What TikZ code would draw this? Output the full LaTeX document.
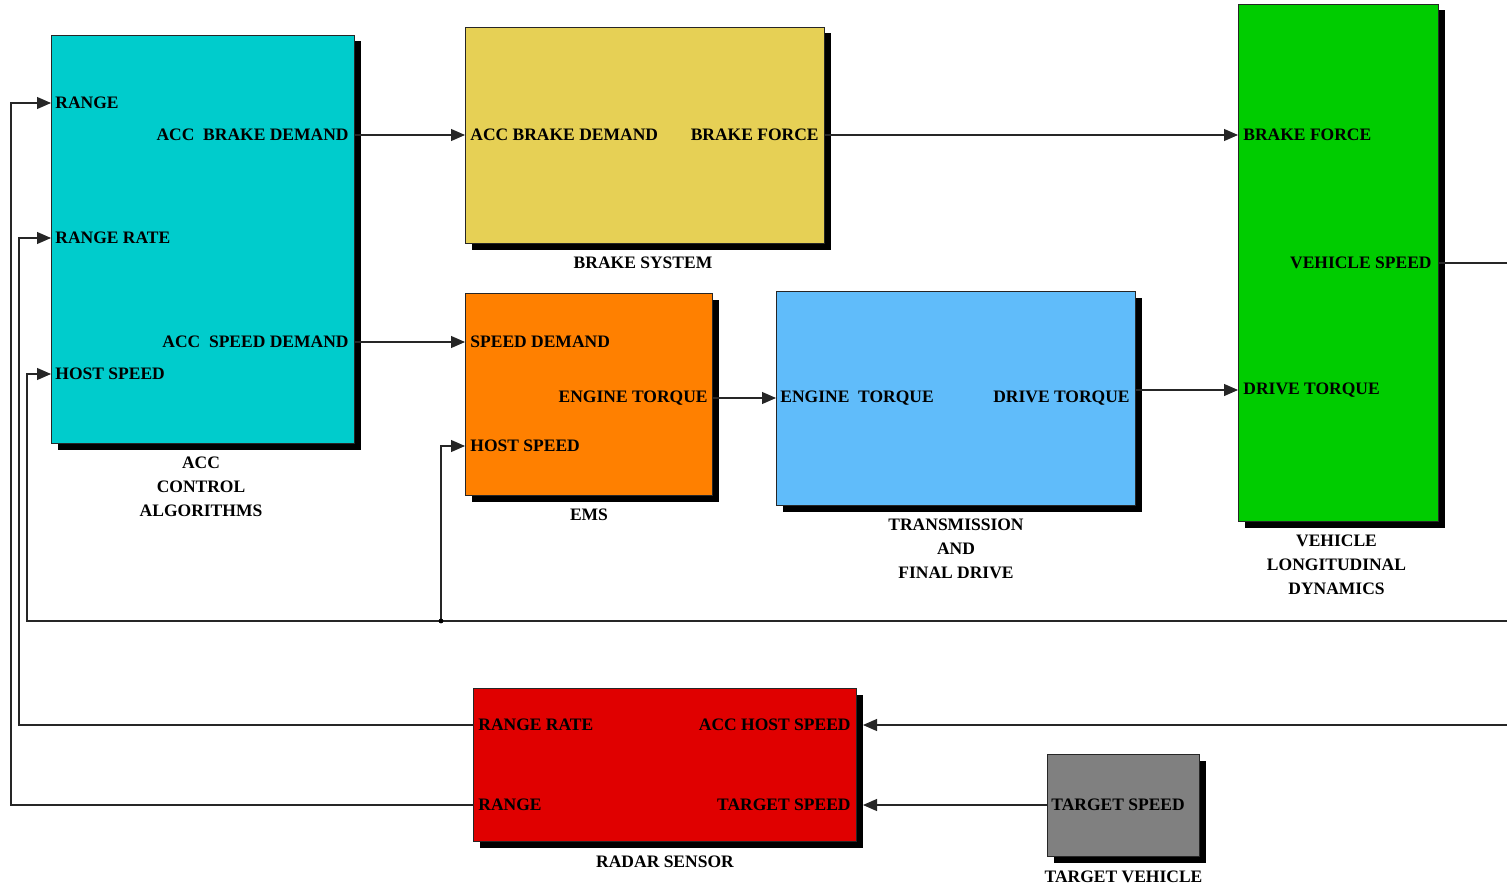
\documentclass[tikz,border=0pt]{standalone}
\usepackage{fontspec}
\setmainfont{Liberation Serif}
\usetikzlibrary{arrows.meta,positioning,shadows,calc}
\definecolor{acccyan}{RGB}{0,204,204}
\definecolor{brakeyellow}{RGB}{230,208,85}
\definecolor{emsorange}{RGB}{255,128,0}
\definecolor{transblue}{RGB}{96,188,250}
\definecolor{vehgreen}{RGB}{0,204,0}
\definecolor{radarred}{RGB}{224,0,0}
\definecolor{targetgray}{RGB}{128,128,128}
\tikzset{
  block/.style={draw=black!85, line width=0.5pt, anchor=north west, inner sep=0pt,
    drop shadow={shadow xshift=3pt, shadow yshift=-3pt, fill=black, opacity=1}},
  port/.style={inner sep=0pt, font=\fontsize{8.75}{11}\selectfont\bfseries},
  inport/.style={port, anchor=west},
  outport/.style={port, anchor=east},
  caption/.style={inner sep=0pt, align=center, font=\fontsize{8.75}{12}\selectfont\bfseries},
  wire/.style={draw=black!85, line width=0.55pt},
  sig/.style={wire, -{Triangle[length=7pt,width=6pt]}},
}
\begin{document}
\begin{tikzpicture}[x=0.5pt, y=-0.5pt]
\useasboundingbox (0,0) rectangle (1507,888);

% blocks
\node[block, fill=acccyan, minimum width=151.5pt, minimum height=204pt] (acc) at (51,35) {};
\node[block, fill=brakeyellow, minimum width=179.5pt, minimum height=108pt] (brake) at (465,27) {};
\node[block, fill=emsorange, minimum width=123.5pt, minimum height=101pt] (ems) at (465,293) {};
\node[block, fill=transblue, minimum width=179.5pt, minimum height=107pt] (trans) at (776,291) {};
\node[block, fill=vehgreen, minimum width=100pt, minimum height=258.5pt] (veh) at (1238,4) {};
\node[block, fill=radarred, minimum width=191.5pt, minimum height=76.5pt] (radar) at (473,688) {};
\node[block, fill=targetgray, minimum width=76pt, minimum height=51pt] (target) at (1047,754) {};

% captions
\node[caption, below=6.5pt of acc, xshift=-1pt] (acccap) {ACC\\CONTROL\\ALGORITHMS};
\node[caption, below=6.5pt of brake, xshift=-1pt] (brakecap) {BRAKE SYSTEM};
\node[caption, below=6.5pt of ems] (emscap) {EMS};
\node[caption, below=6.5pt of trans] (transcap) {TRANSMISSION\\AND\\FINAL DRIVE};
\node[caption, below=6.5pt of veh, xshift=-1pt] (vehcap) {VEHICLE\\LONGITUDINAL\\DYNAMICS};
\node[caption, below=6.5pt of radar] (radarcap) {RADAR SENSOR};
\node[caption, below=6.5pt of target] (targetcap) {TARGET VEHICLE};

% ports
\node[inport] (accr) at (55,103) {RANGE};
\node[inport] (accrr) at (55,238) {RANGE RATE};
\node[inport] (acchs) at (55,374) {HOST SPEED};
\node[outport] (accbd) at (349,135) {ACC\ \ BRAKE DEMAND};
\node[outport] (accsd) at (349,342) {ACC\ \ SPEED DEMAND};

\node[inport] (brkbd) at (470,135) {ACC BRAKE DEMAND};
\node[outport] (brkbf) at (819,135) {BRAKE FORCE};

\node[inport] (emssd) at (470,342) {SPEED DEMAND};
\node[outport] (emset) at (708,398) {ENGINE TORQUE};
\node[inport] (emshs) at (470,446) {HOST SPEED};

\node[inport] (trset) at (780,398) {ENGINE\ \ TORQUE};
\node[outport] (trsdt) at (1130,398) {DRIVE TORQUE};

\node[inport] (vehbf) at (1243,135) {BRAKE FORCE};
\node[outport] (vehvs) at (1432,263) {VEHICLE SPEED};
\node[inport] (vehdt) at (1243,390) {DRIVE TORQUE};

\node[inport] (radrr) at (478,725) {RANGE RATE};
\node[outport] (radhs) at (851,725) {ACC HOST SPEED};
\node[inport] (radr) at (478,805) {RANGE};
\node[outport] (radts) at (851,805) {TARGET SPEED};

\node[inport] (tgtts) at (1051,805) {TARGET SPEED};

% free ends at the right edge
\coordinate (vsout) at (1507,263);
\coordinate (fbin) at (1507,621);
\coordinate (fbjoin) at (441,621);
\coordinate (hsin) at (1507,725);

% connectors
\draw[sig] (acc.east |- accbd) -- (brake.west |- accbd);
\draw[sig] (brake.east |- brkbf) -- (veh.west |- brkbf);
\draw[sig] (acc.east |- accsd) -- (ems.west |- accsd);
\draw[sig] (ems.east |- emset) -- (trans.west |- emset);
\draw[sig] (trans.east |- vehdt) -- (veh.west |- vehdt);
\draw[wire] (veh.east |- vehvs) -- (vsout);

\draw[sig] (fbin) -- (27,621) |- (acc.west |- acchs);
\draw[sig] (fbjoin) |- (ems.west |- emshs);
\fill (fbjoin) circle (1.2pt);

\draw[sig] (radar.west |- radrr) -- (19,725) |- (acc.west |- accrr);
\draw[sig] (radar.west |- radr) -- (11,805) |- (acc.west |- accr);
\draw[sig] (hsin) -- ($(radar.east |- radhs)+(3pt,0)$);
\draw[sig] (target.west |- tgtts) -- ($(radar.east |- radts)+(3pt,0)$);
\end{tikzpicture}
\end{document}
